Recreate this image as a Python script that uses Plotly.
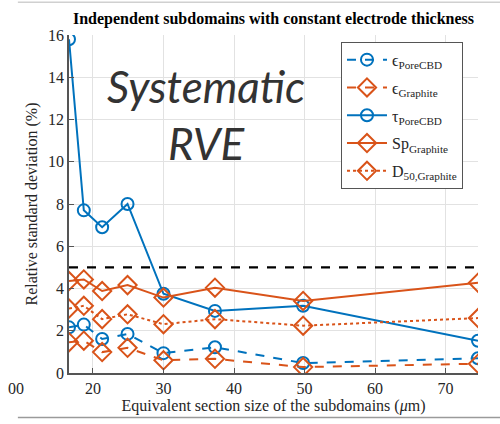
import plotly.graph_objects as go

# Equivalent section size of the subdomains (um)
section_size = [16.6, 18.7, 21.3, 24.9, 30.0, 37.3, 49.8, 74.6]

# Relative standard deviation (%) of each property
eps_porecbd = [2.16, 2.29, 1.61, 1.85, 0.94, 1.22, 0.47, 0.70]
eps_graphite = [1.46, 1.53, 0.99, 1.19, 0.60, 0.67, 0.28, 0.44]
tau_porecbd = [15.8, 7.7, 6.9, 8.0, 3.75, 2.94, 3.18, 1.53]
sp_graphite = [4.35, 4.43, 3.88, 4.16, 3.57, 4.04, 3.41, 4.27]
d50_graphite = [3.05, 3.18, 2.55, 2.78, 2.31, 2.55, 2.24, 2.60]

threshold = 5.0
x_ticks = [20, 30, 40, 50, 60, 70]
y_ticks = [0, 2, 4, 6, 8, 10, 12, 14, 16]

BLUE = "#0072BD"
ORANGE = "#D95319"
SERIF = "Liberation Serif, Times New Roman, serif"

series = [
    ("ϵ<sub>PoreCBD</sub>", eps_porecbd, BLUE, "dash", "circle-open"),
    ("ϵ<sub>Graphite</sub>", eps_graphite, ORANGE, "dash", "diamond-open"),
    ("τ<sub>PoreCBD</sub>", tau_porecbd, BLUE, "solid", "circle-open"),
    ("Sp<sub>Graphite</sub>", sp_graphite, ORANGE, "solid", "diamond-open"),
    ("D<sub>50,Graphite</sub>", d50_graphite, ORANGE, "dot", "diamond-open"),
]

fig = go.Figure()

# 5 % threshold line
fig.add_trace(go.Scatter(
    x=[section_size[0], section_size[-1]], y=[threshold, threshold],
    mode="lines", line=dict(color="black", width=2.2, dash="dash"),
    showlegend=False, hoverinfo="skip",
))

for i, (name, vals, color, dash, symbol) in enumerate(series):
    is_circle = symbol.startswith("circle")
    fig.add_trace(go.Scatter(
        x=section_size, y=vals, name=name, mode="lines+markers",
        legendgroup=f"g{i}",
        line=dict(color=color, width=2, dash=dash),
        marker=dict(symbol=symbol, size=12 if is_circle else 14,
                    color=color, line=dict(color=color, width=2)),
    ))

fig.update_layout(
    width=500, height=424,
    margin=dict(l=69, r=22, t=35, b=47),
    paper_bgcolor="white", plot_bgcolor="white",
    font=dict(family=SERIF, size=16, color="#262626"),
    title=dict(
        text="<b>Independent subdomains with constant electrode thickness</b>",
        x=0.547, xanchor="center", y=0.957, yanchor="middle",
        font=dict(family=SERIF, size=16, color="black"),
    ),
    legend=dict(
        x=0.665, y=0.98, xanchor="left", yanchor="top",
        bgcolor="white", bordercolor="#555555", borderwidth=1,
        font=dict(family=SERIF, size=16, color="#262626"),
        itemwidth=40, tracegroupgap=4,
    ),
    xaxis=dict(
        range=[16.6, 74.6], tickvals=x_ticks,
        showgrid=True, gridcolor="#e2e2e2", gridwidth=1,
        showline=True, linecolor="#555555", linewidth=1.5,
        ticks="inside", ticklen=5, tickcolor="#555555",
        zeroline=False,
        title=dict(text="Equivalent section size of the subdomains (<i>μ</i>m)",
                   standoff=4, font=dict(family=SERIF, size=16)),
        tickfont=dict(family=SERIF, size=16, color="#262626"),
    ),
    yaxis=dict(
        range=[0, 16], tickvals=y_ticks,
        showgrid=True, gridcolor="#e2e2e2", gridwidth=1,
        showline=True, linecolor="#555555", linewidth=1.5,
        ticks="inside", ticklen=5, tickcolor="#555555",
        zeroline=False,
        title=dict(text="Relative standard deviation (%)", standoff=6,
                   font=dict(family=SERIF, size=16)),
        tickfont=dict(family=SERIF, size=16, color="#262626"),
    ),
)

# Large overlay label
fig.add_annotation(
    text="<i>Systematic<br>RVE</i>", xref="paper", yref="paper",
    x=0.335, y=0.765, xanchor="center", yanchor="middle", showarrow=False,
    font=dict(family="Lato, Open Sans, sans-serif", size=44, color="#333333"),
    align="center",
)

# Neighbouring panel fragments at the edges
fig.add_annotation(
    text="00", xref="paper", yref="paper", x=-0.13, y=-0.045,
    xanchor="center", yanchor="middle", showarrow=False,
    font=dict(family=SERIF, size=16, color="#262626"),
)
fig.add_shape(type="line", xref="paper", yref="paper",
              x0=-0.125, x1=1.06, y0=1.097, y1=1.097,
              line=dict(color="#d0d0d0", width=1.5))
fig.add_shape(type="line", xref="paper", yref="paper",
              x0=-0.125, x1=1.06, y0=-0.132, y1=-0.132,
              line=dict(color="#9a9a9a", width=1.5))

fig.write_html("out.html")
